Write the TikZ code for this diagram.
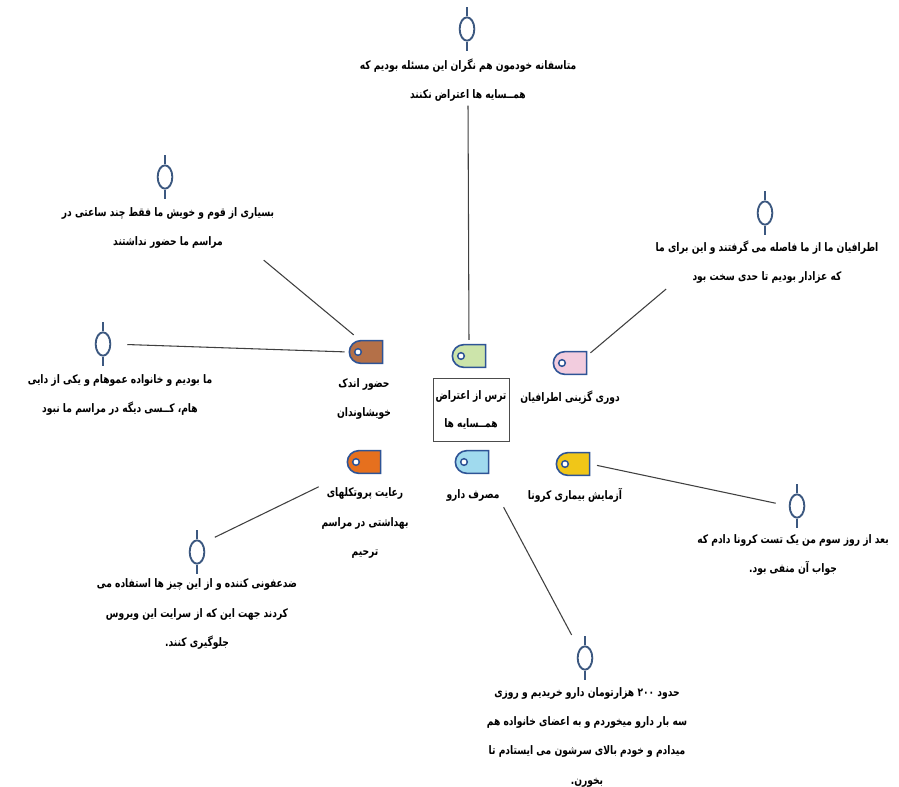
\documentclass[tikz,border=0pt]{standalone}
\usepackage{fontspec}
\usetikzlibrary{positioning}
\usetikzlibrary{shapes.geometric,shapes.misc}
\newfontfamily\farsi[Script=Arabic,FakeStretch=0.78]{DejaVu Sans}
\TeXXeTstate=1
\definecolor{tagblue}{RGB}{46,84,150}
\definecolor{pinblue}{RGB}{60,88,128}
\definecolor{tagbrown}{RGB}{180,112,72}
\definecolor{taggreen}{RGB}{204,228,170}
\definecolor{tagpink}{RGB}{242,204,222}
\definecolor{tagorange}{RGB}{230,112,30}
\definecolor{tagcyan}{RGB}{160,218,238}
\definecolor{tagyellow}{RGB}{240,198,24}
\newcommand\fa[1]{\beginR #1\endR}

\begin{document}
\begin{tikzpicture}[x=0.75pt,y=-0.75pt,
        tagicon/.style={rounded rectangle,rounded rectangle east arc=none,draw=tagblue,line width=1.2pt,
          fill=#1,minimum width=25pt,minimum height=17pt,inner sep=0pt,
          path picture={\draw[tagblue,fill=white,line width=1.1pt] ([xshift=6.5pt]path picture bounding box.west) circle (2.5pt);}},
        quotepin/.style={ellipse,draw=pinblue,line width=1.4pt,minimum width=11pt,minimum height=17.5pt,inner sep=0pt,
          append after command={(\tikzlastnode.north) edge[pinblue,line width=1.8pt] +(0,7pt)
                                (\tikzlastnode.south) edge[pinblue,line width=1.8pt] +(0,-7pt)}},
        quotetext/.style={align=center,inner sep=1pt,font=\farsi\bfseries\fontsize{8.8}{22}\selectfont},
        link/.style={draw=black!75,line width=0.8pt}]
        \path[fill=white,use as bounding box] (0,0) rectangle (899,786); %%
        %% tags
        \node[tagicon=tagbrown] (kin) at (366,352) {}; %%
        \node[tagicon=taggreen] (fear) at (469,356) {}; %%
        \node[tagicon=tagpink] (avoid) at (570,363) {}; %%
        \node[tagicon=tagorange] (hyg) at (364,462) {}; %%
        \node[tagicon=tagcyan] (drug) at (472,462) {}; %%
        \node[tagicon=tagyellow] (test) at (573,464) {}; %%
        \begin{scope}[quotetext]
        \node (kintext) at (364,399) {\fa{حضور اندک}\\\fa{خویشاوندان}}; %%
        \node[draw=black!70,line width=0.6pt,minimum width=57pt,minimum height=47pt,
              font=\farsi\bfseries\fontsize{8.8}{21}\selectfont] (feartext) at (471,410)
              {\fa{ترس از اعتراض}\\\fa{همــسایه ها}}; %%
        \node (avoidtext) at (570,398) {\fa{دوری گزینی اطرافیان}}; %%
        \node (hygtext) at (365,523) {\fa{رعایت پروتکلهای}\\\fa{بهداشتی در مراسم}\\\fa{ترحیم}}; %%
        \node (drugtext) at (473,495) {\fa{مصرف دارو}}; %%
        \node (testtext) at (575,495) {\fa{آزمایش بیماری کرونا}}; %%
        \end{scope}
        %% quotes
        \node[quotepin] (qworry) at (467,29) {}; %%
        \node[quotepin] (qhours) at (165,177) {}; %%
        \node[quotepin] (qdistance) at (765,213) {}; %%
        \node[quotepin] (qfamily) at (103,344) {}; %%
        \node[quotepin] (qnegative) at (797,506) {}; %%
        \node[quotepin] (qdisinfect) at (197,552) {}; %%
        \node[quotepin] (qmedicine) at (585,658) {}; %%
        \begin{scope}[quotetext]
        \node (worrytext) at (468,80) {\fa{متاسفانه خودمون هم نگران این مسئله بودیم که}\\\fa{همــسایه ها اعتراض نکنند}}; %%
        \node (hourstext) at (168,228) {\fa{بسیاری از قوم و خویش ما فقط چند ساعتی در}\\\fa{مراسم ما حضور نداشتند}}; %%
        \node (distancetext) at (767,262) {\fa{اطرافیان ما از ما فاصله می گرفتند و این برای ما}\\\fa{که عزادار بودیم تا حدی سخت بود}}; %%
        \node (familytext) at (120,395) {\fa{ما بودیم و خانواده عموهام و یکی از دایی}\\\fa{هام، کــسی دیگه  در مراسم ما نبود}}; %%
        \node (negativetext) at (793,555) {\fa{بعد از روز سوم من یک تست کرونا دادم که}\\\fa{جواب آن منفی بود.}}; %%
        \node (disinfecttext) at (197,614) {\fa{ضدعفونی کننده و از این چیز ها استفاده می}\\\fa{کردند جهت این که از سرایت این ویروس}\\\fa{جلوگیری کنند.}}; %%
        \node (medicinetext) at (587,737) {\fa{حدود \beginL ۲۰۰\endL{} هزارتومان دارو خریدیم و روزی}\\\fa{سه بار دارو میخوردم و به اعضای خانواده هم}\\\fa{میدادم و خودم بالای سرشون می ایستادم تا}\\\fa{بخورن.}}; %%
        \end{scope}
        %% connectors
        \draw[link,shorten <=2pt,shorten >=3pt] (worrytext.south) -- (fear.north); %%
        \draw[link] ([shift={(-12,10)}]hourstext.south east) -- ([shift={(-7,-5)}]kin.north west); %%
        \draw[link] ([shift={(12,4)}]distancetext.south west) -- ([shift={(3,2)}]avoid.north east); %%
        \draw[link,shorten <=12pt,shorten >=3pt] (qfamily.east) -- (kin.west); %%
        \draw[link,shorten <=5pt,shorten >=10pt] (test.east) -- (qnegative.west); %%
        \draw[link,shorten <=10pt,shorten >=1pt] (qdisinfect.north east) -- (hygtext.north west); %%
        \draw[link,shorten <=4pt,shorten >=12pt] (drugtext.south east) -- (qmedicine.north west); %%
\end{tikzpicture}
\end{document}
